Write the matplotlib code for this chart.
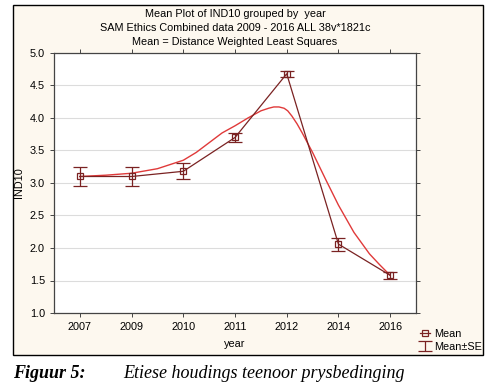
"""Mean plot of IND10 grouped by year, with DWLS smooth and SE bars."""

import matplotlib
import numpy as np

matplotlib.use("Agg")
import matplotlib.pyplot as plt  # noqa: E402
from matplotlib.patches import Rectangle  # noqa: E402

plt.rcParams["font.family"] = ["Liberation Sans", "DejaVu Sans"]

years = ["2007", "2009", "2010", "2011", "2012", "2014", "2016"]
means = [3.10, 3.10, 3.18, 3.70, 4.68, 2.06, 1.58]
se = [0.14, 0.14, 0.12, 0.075, 0.05, 0.10, 0.055]

# distance weighted least squares curve (category units)
dwls_x = [0.0, 0.5, 1.0, 1.5, 2.0, 2.25, 2.5, 2.75, 3.0, 3.25, 3.5, 3.65,
          3.75, 3.85, 3.95, 4.02, 4.1, 4.2, 4.3, 4.5, 4.75, 5.0, 5.3, 5.6,
          5.8, 6.0]
dwls_y = [3.10, 3.12, 3.15, 3.22, 3.35, 3.47, 3.62, 3.77, 3.88, 4.00, 4.11,
          4.15, 4.17, 4.17, 4.15, 4.11, 4.03, 3.91, 3.77, 3.47, 3.06, 2.66,
          2.24, 1.91, 1.74, 1.58]

W, H = 491, 389
MEAN_C = "#7a2222"
FIT_C = "#e03a3a"

fig = plt.figure(figsize=(W / 100, H / 100), dpi=100)
fig.patch.set_facecolor("white")
frame = Rectangle((13 / W, 1 - 355 / H), 470 / W, 350 / H,
                  transform=fig.transFigure, facecolor="#fdf8ef",
                  edgecolor="black", lw=1.0, zorder=-10)
fig.patches.append(frame)

ax = fig.add_axes([54 / W, 1 - 313 / H, 362 / W, 260 / H])
ax.set_zorder(5)
ax.set_facecolor("white")
x = np.arange(len(years))

ax.plot(dwls_x, dwls_y, color=FIT_C, lw=1.0, zorder=3)
ax.plot(x, means, color=MEAN_C, lw=0.9, marker="s", ms=5, mfc="none",
        mec=MEAN_C, mew=0.9, zorder=4, label="Mean")
ax.errorbar(x, means, yerr=se, fmt="none", ecolor=MEAN_C, elinewidth=0.9,
            capsize=5, capthick=0.9, zorder=4, label="Mean±SE")

ax.set_xlim(-0.5, 6.5)
ax.set_ylim(1.0, 5.0)
ax.set_xticks(x)
ax.set_xticklabels(years)
ax.set_yticks(np.arange(1.0, 5.01, 0.5))
ax.set_yticklabels([f"{v:.1f}" for v in np.arange(1.0, 5.01, 0.5)])
ax.yaxis.grid(True, color="#dcdcdc", lw=0.8)
ax.set_axisbelow(True)
ax.tick_params(labelsize=7.8, length=3, width=0.7, color="#444444",
               top=True, right=True, direction="out")
for s in ax.spines.values():
    s.set_color("#444444")
    s.set_linewidth(0.9)

ax.set_xlabel("year", fontsize=7.8, labelpad=5)
ax.set_ylabel("IND10", fontsize=7.8, labelpad=4)

titles = ["Mean Plot of IND10 grouped by  year",
          "SAM Ethics Combined data 2009 - 2016 ALL 38v*1821c",
          "Mean = Distance Weighted Least Squares"]
for i, t in enumerate(titles):
    fig.text(235 / W, 1 - (14 + 14 * i) / H, t, ha="center", va="center",
             fontsize=7.8)

leg = fig.legend(loc="upper left", bbox_to_anchor=(412 / W, 1 - 321 / H),
                 frameon=False, fontsize=7.8, handlelength=1.0,
                 handletextpad=0.3, labelspacing=0.3, borderpad=0.2)

fig.text(13 / W, 1 - 373 / H, "Figuur 5:", family="Liberation Serif",
         style="italic", weight="bold", fontsize=13, va="center")
fig.text(123 / W, 1 - 373 / H, "Etiese houdings teenoor prysbedinging",
         family="Liberation Serif", style="italic", fontsize=13, va="center")

fig.savefig("out.png", dpi=100)
